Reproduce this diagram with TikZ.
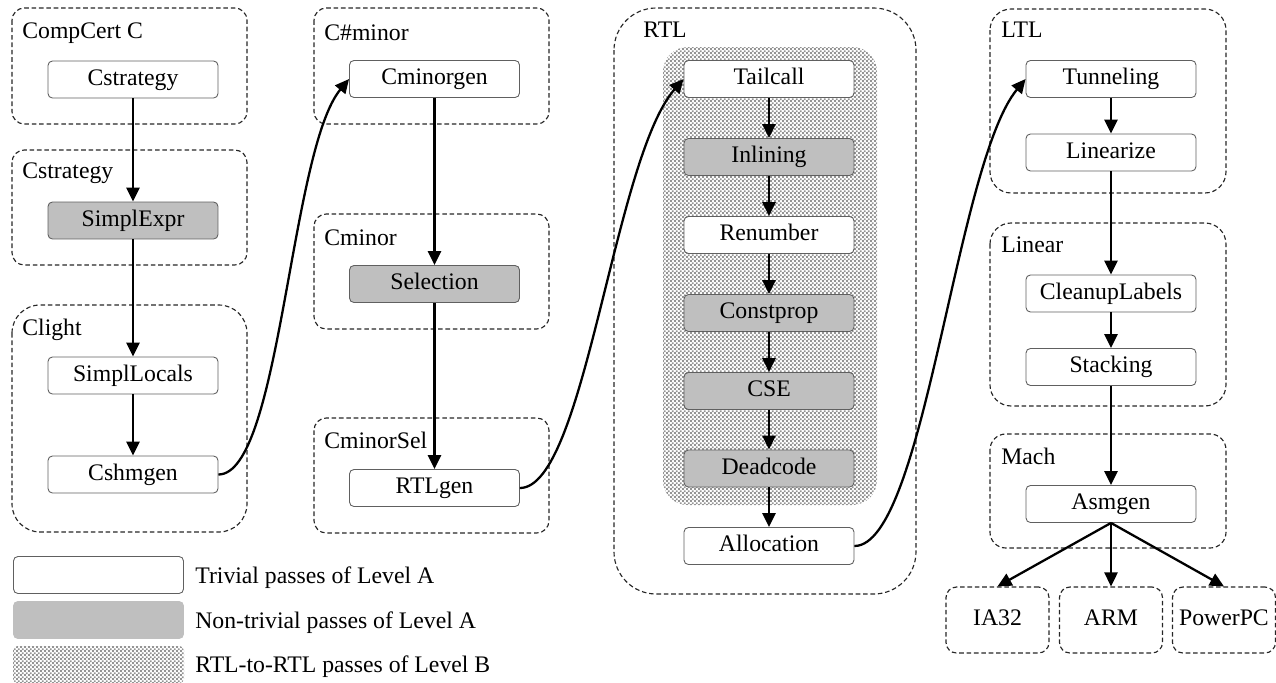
\documentclass[tikz,border=0pt]{standalone}
\usepackage{fontspec}
\setmainfont{Liberation Serif}
\usetikzlibrary{arrows.meta,patterns.meta}

% fine checker used for the RTL-to-RTL passes
\tikzdeclarepattern{
  name=rtldots,
  type=uncolored,
  bottom left={(0pt,0pt)},
  top right={(2.4pt,2.4pt)},
  tile size={(2.4pt,2.4pt)},
  code={
    \fill (0pt,0pt) rectangle (1.2pt,1.2pt);
    \fill (1.2pt,1.2pt) rectangle (2.4pt,2.4pt);
  }
}

\begin{document}
\begin{tikzpicture}[x=0.02cm,y=-0.02cm,
  font=\fontsize{13.5}{16}\selectfont,
  pass/.style={draw=gray!75!black,line width=0.5pt,rounded corners=2.5pt,fill=white,
    minimum width=3.4cm,minimum height=0.74cm,inner sep=0pt,
    text height=0.66em,text depth=0pt},
  hardpass/.style={pass,fill=gray!50},
  group/.style={draw=black!85,line width=0.65pt,dash pattern=on 2.6pt off 1.6pt},
  target/.style={group,rounded corners=6pt,minimum width=2.06cm,minimum height=1.32cm,inner sep=0pt,
    text height=0.66em,text depth=0pt},
  lang/.style={anchor=base west,inner sep=0pt},
  flow/.style={line width=1.3pt,-{Triangle[length=8pt,width=7.5pt]}}]
\useasboundingbox (0,0) rectangle (1276,683);

% RTL-to-RTL region
\path[pattern=rtldots,pattern color=black!42,rounded corners=14pt] (663,47) rectangle (877,505);

% Language boxes
\draw[group,rounded corners=7pt] (12,8) rectangle (247,124);
\draw[group,rounded corners=7pt] (12,150) rectangle (247,265);
\draw[group,rounded corners=16pt] (12,305) rectangle (247,532);
\draw[group,rounded corners=7pt] (314,8) rectangle (549,124);
\draw[group,rounded corners=7pt] (314,214) rectangle (549,329);
\draw[group,rounded corners=7pt] (314,418) rectangle (549,533);
\draw[group,rounded corners=24pt] (614,8) rectangle (916,594);
\draw[group,rounded corners=12pt] (990,9) rectangle (1226,193);
\draw[group,rounded corners=12pt] (990,223) rectangle (1226,406);
\draw[group,rounded corners=9pt] (990,434) rectangle (1226,548);

\node[lang] (l-compcert) at (22,38) {CompCert C};
\node[lang] (l-cstrategy) at (22,178) {Cstrategy};
\node[lang] (l-clight) at (22,335) {Clight};
\node[lang] (l-csharpminor) at (324,40) {C\#minor};
\node[lang] (l-cminor) at (324,245) {Cminor};
\node[lang] (l-cminorsel) at (324,448) {CminorSel};
\node[lang] (l-rtl) at (643,37) {RTL};
\node[lang] (l-ltl) at (1001,37) {LTL};
\node[lang] (l-linear) at (1001,252) {Linear};
\node[lang] (l-mach) at (1001,464) {Mach};

% Passes
\node[pass] (cstrategy) at (133,79.5) {Cstrategy};
\node[hardpass] (simplexpr) at (133,220.5) {SimplExpr};
\node[pass] (simpllocals) at (133,375.5) {SimplLocals};
\node[pass] (cshmgen) at (133,474.5) {Cshmgen};

\node[pass] (cminorgen) at (434.5,79) {Cminorgen};
\node[hardpass] (selection) at (434.5,284) {Selection};
\node[pass] (rtlgen) at (434.5,488) {RTLgen};

\node[pass] (tailcall) at (769,79) {Tailcall};
\node[hardpass] (inlining) at (769,157) {Inlining};
\node[pass] (renumber) at (769,235) {Renumber};
\node[hardpass] (constprop) at (769,313) {Constprop};
\node[hardpass] (cse) at (769,391) {CSE};
\node[hardpass] (deadcode) at (769,468.5) {Deadcode};
\node[pass] (allocation) at (769,546) {Allocation};

\node[pass] (tunneling) at (1111,79) {Tunneling};
\node[pass] (linearize) at (1111,152.5) {Linearize};
\node[pass] (cleanuplabels) at (1111,293.5) {CleanupLabels};
\node[pass] (stacking) at (1111,367) {Stacking};
\node[pass] (asmgen) at (1111,504) {Asmgen};

% Back ends
\node[target] (ia32) at (997.5,620) {IA32};
\node[target] (arm) at (1111,620) {ARM};
\node[target] (powerpc) at (1224,620) {PowerPC};

% Arrows
\draw[flow] (cstrategy) -- (simplexpr);
\draw[flow] (simplexpr) -- (simpllocals);
\draw[flow] (simpllocals) -- (cshmgen);
\draw[flow] (cshmgen.east) .. controls +(62,0) and +(-59,71) .. (cminorgen.west);
\draw[flow] (cminorgen) -- (selection);
\draw[flow] (selection) -- (rtlgen);
\draw[flow] (rtlgen.east) .. controls +(65,0) and +(-70,80) .. (tailcall.west);
\draw[flow] (tailcall) -- (inlining);
\draw[flow] (inlining) -- (renumber);
\draw[flow] (renumber) -- (constprop);
\draw[flow] (constprop) -- (cse);
\draw[flow] (cse) -- (deadcode);
\draw[flow] (deadcode) -- (allocation);
\draw[flow] (allocation.east) .. controls +(70,0) and +(-70,85) .. (tunneling.west);
\draw[flow] (tunneling) -- (linearize);
\draw[flow] (linearize) -- (cleanuplabels);
\draw[flow] (cleanuplabels) -- (stacking);
\draw[flow] (stacking) -- (asmgen);
\draw[flow] (asmgen.south) -- (ia32.north);
\draw[flow] (asmgen.south) -- (arm.north);
\draw[flow] (asmgen.south) -- (powerpc.north);

% Legend
\node[pass] (key-a) at (98.5,575) {};
\node[pass,draw=gray!50,fill=gray!50] (key-b) at (98.5,620) {};
\path[pattern=rtldots,pattern color=black!42,rounded corners=2.5pt] (13,646) rectangle (184,683);
\node[lang] (txt-a) at (195,583) {Trivial passes of Level A};
\node[lang] (txt-b) at (195,628) {Non-trivial passes of Level A};
\node[lang] (txt-c) at (195,672) {RTL-to-RTL passes of Level B};
\end{tikzpicture}
\end{document}
